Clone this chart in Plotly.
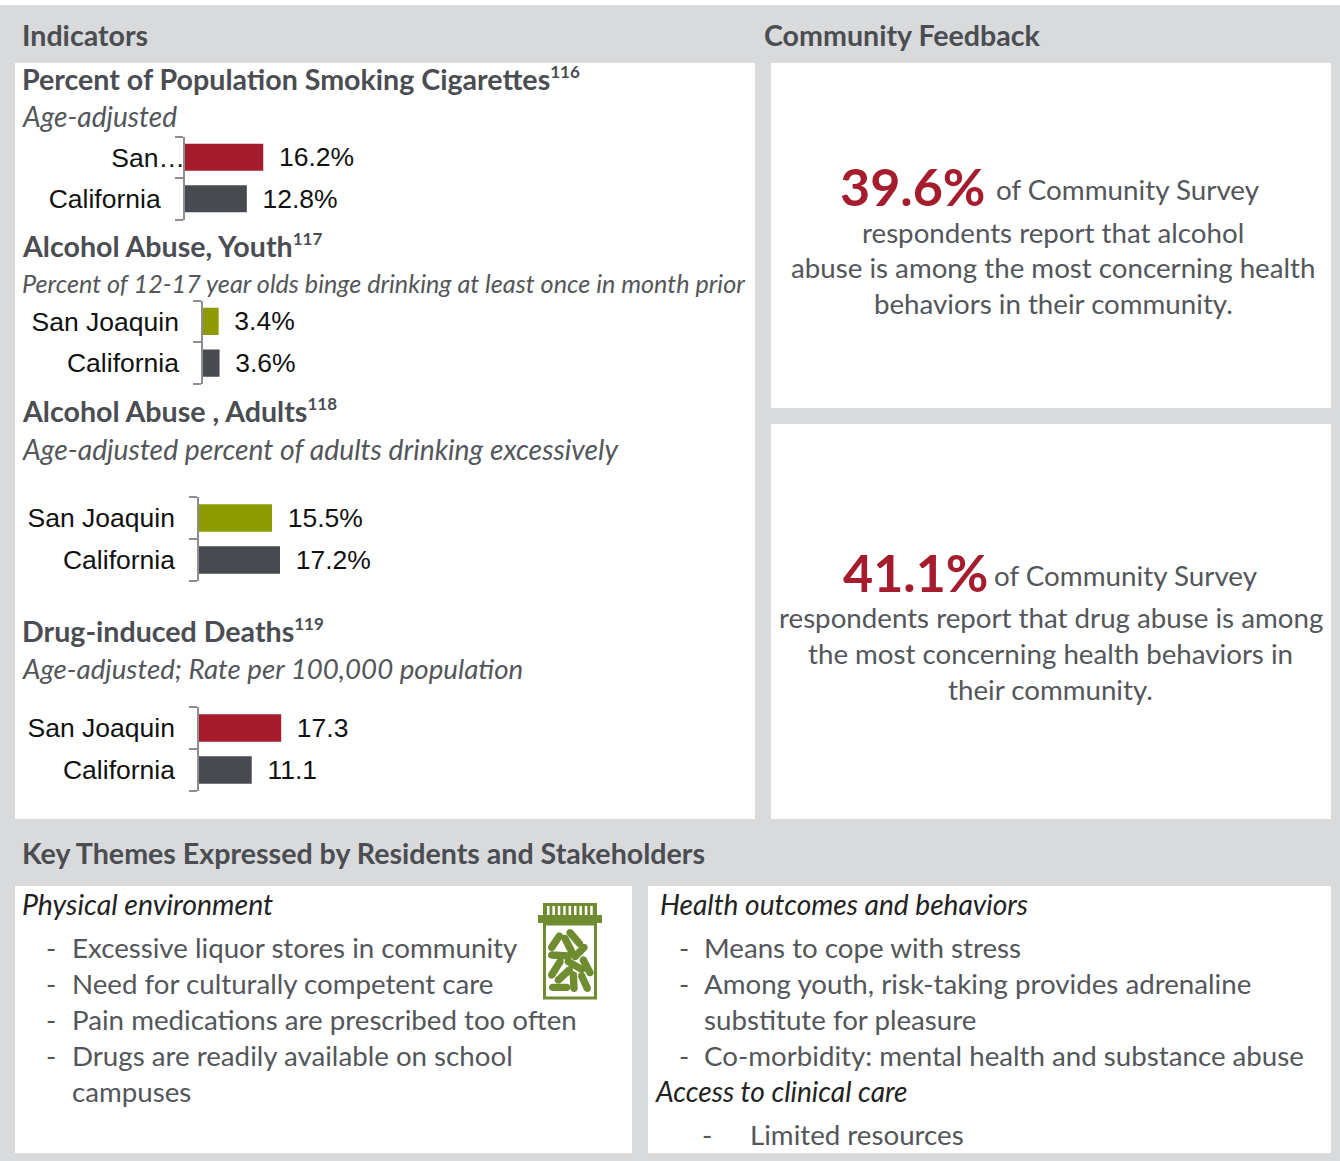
import plotly.graph_objects as go
import math

W, H = 1340, 1161
BODY = "Lato"
ARIAL = "Liberation Sans"
GRAY_BG = "#D9DADC"
DARK = "#4A4D52"
TXT = "#53565A"
RED = "#A51C2D"
OLIVE = "#8E9B00"
SLATE = "#474A4F"
ICON = "#6F8C30"

# ---- data ----
smoking_categories = ["San…", "California"]
smoking_values = [16.2, 12.8]
youth_categories = ["San Joaquin", "California"]
youth_values = [3.4, 3.6]
adult_categories = ["San Joaquin", "California"]
adult_values = [15.5, 17.2]
drug_categories = ["San Joaquin", "California"]
drug_values = [17.3, 11.1]
smoking_colors = [RED, SLATE]
youth_colors = [OLIVE, SLATE]
adult_colors = [OLIVE, SLATE]
drug_colors = [RED, SLATE]


def px(x):
    return x / W


def py(y):
    return 1 - y / H


fig = go.Figure()
shapes = []
ann = []


def rect(x0, y0, x1, y1, color):
    shapes.append(dict(type="rect", xref="paper", yref="paper", x0=px(x0), x1=px(x1),
                       y0=py(y1), y1=py(y0), fillcolor=color, line_width=0, layer="below"))


rect(0, 5, W, H, GRAY_BG)
rect(15, 63, 755, 819, "white")
rect(771, 63, 1331, 408, "white")
rect(771, 424, 1331, 819, "white")
rect(15, 886, 632, 1153, "white")
rect(648, 886, 1331, 1153, "white")


def text(s, x, y, size=27.7, color=TXT, bold=False, italic=False, anchor="left", family=BODY):
    if bold:
        s = f"<b>{s}</b>"
    if italic:
        s = f"<i>{s}</i>"
    if anchor == "left":
        x -= 3
    y -= 1.5
    ann.append(dict(text=s, x=px(x), y=py(y), xref="paper", yref="paper", xanchor=anchor,
                    yanchor="middle", showarrow=False, align=anchor,
                    font=dict(family=family, size=size, color=color)))


def sup(s):
    return f'<sup><span style="font-size:17px">{s}</span></sup>'


HEAD = 28.6
ITAL = 28.1
# headers
text("Indicators", 23, 36, HEAD, DARK, bold=True)
text("Community Feedback", 765, 36, HEAD, DARK, bold=True)
text("Key Themes Expressed by Residents and Stakeholders", 23, 854, HEAD, DARK, bold=True)

# chart titles
text("Percent of Population Smoking Cigarettes" + sup("116"), 23, 80, HEAD, DARK, bold=True)
text("Age-adjusted", 23, 117, ITAL, TXT, italic=True)
text("Alcohol Abuse, Youth" + sup("117"), 23, 247, HEAD, DARK, bold=True)
text("Percent of 12-17 year olds binge drinking at least once in month prior", 23, 284, 25.2, TXT, italic=True)
text("Alcohol Abuse , Adults" + sup("118"), 23, 412, HEAD, DARK, bold=True)
text("Age-adjusted percent of adults drinking excessively", 23, 450, 28.3, TXT, italic=True)
text("Drug-induced Deaths" + sup("119"), 23, 632, HEAD, DARK, bold=True)
text("Age-adjusted; Rate per 100,000 population", 23, 670, 27.7, TXT, italic=True)

# community feedback
text("39.6%", 841, 187, 52, RED, bold=True)
text("of Community Survey", 997, 191, 27.8)
for s, y in [("respondents report that alcohol", 234),
             ("abuse is among the most concerning health", 269),
             ("behaviors in their community.", 305)]:
    text(s, 1053, y, 27.7, anchor="center")
text("41.1%", 844, 573, 52, RED, bold=True)
text("of Community Survey", 995, 577, 27.8)
for s, y in [("respondents report that drug abuse is among", 619),
             ("the most concerning health behaviors in", 655),
             ("their community.", 691)]:
    text(s, 1050.5, y, 27.7, anchor="center")

# key themes
text("Physical environment", 23, 905, 28.5, "#222222", italic=True)
for s, y, dash in [("Excessive liquor stores in community", 949, True),
                   ("Need for culturally competent care", 985, True),
                   ("Pain medications are prescribed too often", 1021, True),
                   ("Drugs are readily available on school", 1057, True),
                   ("campuses", 1093, False)]:
    if dash:
        text("-", 47, y)
    text(s, 73, y)

text("Health outcomes and behaviors", 661, 905, ITAL, "#222222", italic=True)
for s, y, dash in [("Means to cope with stress", 949, True),
                   ("Among youth, risk-taking provides adrenaline", 985, True),
                   ("substitute for pleasure", 1021, False),
                   ("Co-morbidity: mental health and substance abuse", 1057, True)]:
    if dash:
        text("-", 680, y)
    text(s, 705, y)
text("Access to clinical care", 655.5, 1092, ITAL, "#222222", italic=True)
text("-", 703, 1136)
text("Limited resources", 751.5, 1136)

# charts: each has own axes placed by pixel position
charts = [
    (smoking_categories, smoking_values, smoking_colors, 185, 136.5, 219.5, 4.83),
    (youth_categories, youth_values, youth_colors, 203, 300.5, 384, 4.6),
    (adult_categories, adult_values, adult_colors, 199, 497, 581, 4.71),
    (drug_categories, drug_values, drug_colors, 199, 707, 791, 4.75),
]
NB = "\u00a0"
TH = "\u2009"
HAIR = "\u200a"
layout_axes = {}
for i, (cats, vals, cols, ax0, top, bottom, scale) in enumerate(charts, start=1):
    suffix = "" if i == 1 else str(i)
    xname, yname = f"x{suffix}", f"y{suffix}"
    pos = list(range(len(cats)))
    span_px = 300
    is_pct = i < 4
    fig.add_trace(go.Bar(
        x=vals, y=pos, orientation="h", xaxis=xname, yaxis=yname, width=0.65,
        marker=dict(color=cols, line_width=0),
        text=[f"{NB}{TH}{v}{'%' if is_pct else ''}" for v in vals],
        textposition="outside", cliponaxis=False, constraintext="none",
        outsidetextfont=dict(family=ARIAL, size=26.5, color="#111111"),
        hoverinfo="skip", showlegend=False))
    labels = list(cats)
    standoff = 17
    if i == 1:
        labels = [cats[0], cats[1] + NB * 3 + HAIR]
        standoff = -7
    layout_axes[f"xaxis{suffix}"] = dict(
        domain=[px(ax0), px(ax0 + span_px)], range=[0, span_px / scale], visible=False,
        anchor=yname, fixedrange=True)
    layout_axes[f"yaxis{suffix}"] = dict(
        domain=[py(bottom), py(top)], range=[len(cats) - 0.5, -0.5], anchor=xname,
        showgrid=False, zeroline=False, showline=True, linecolor="#8C8E91", linewidth=1.5,
        tickmode="array", tickvals=pos, ticktext=labels, ticks="", ticklabelstandoff=standoff,
        tickfont=dict(family=ARIAL, size=26.5, color="#111111"),
        minor=dict(tickmode="array", tickvals=[-0.5, 0.5, 1.5], ticks="outside", ticklen=8,
                   tickwidth=1.5, tickcolor="#8C8E91", showgrid=False),
        fixedrange=True)


# pill bottle icon (decoration, drawn in page pixels from the 3x zoom coordinates)
def iz(zx, zy):
    return 520 + zx / 3, 890 + zy / 3


def path_rect(x0, y0, x1, y1, color, line=None, lw=0):
    shapes.append(dict(type="rect", xref="paper", yref="paper", x0=px(x0), x1=px(x1),
                       y0=py(y1), y1=py(y0), fillcolor=color,
                       line=dict(color=line or color, width=lw), layer="above"))


def capsule(a, b, r=3.7):
    (x0, y0), (x1, y1) = iz(*a), iz(*b)
    base = math.atan2(y1 - y0, x1 - x0)
    pts = []
    for k in range(9):
        t = base + math.pi / 2 + math.pi * k / 8
        pts.append((x0 + r * math.cos(t), y0 + r * math.sin(t)))
    for k in range(9):
        t = base - math.pi / 2 + math.pi * k / 8
        pts.append((x1 + r * math.cos(t), y1 + r * math.sin(t)))
    d = "M" + " L".join(f"{px(x):.5f},{py(y):.5f}" for x, y in pts) + " Z"
    shapes.append(dict(type="path", xref="paper", yref="paper", path=d, fillcolor=ICON,
                       line_width=0, layer="above"))


path_rect(544.5, 924, 595.5, 998, "rgba(0,0,0,0)", ICON, 3)
path_rect(543, 903, 597, 916, ICON)
path_rect(538, 915, 602, 923, ICON)
for k in range(9):
    path_rect(547 + k * 5.4, 906, 549.5 + k * 5.4, 915, "white")
pills = [((118, 138), (95, 172)), ((150, 128), (178, 160)), ((135, 145), (155, 185)),
         ((192, 172), (165, 200)), ((95, 195), (145, 198)), ((145, 215), (185, 238)),
         ((190, 210), (210, 248)), ((120, 215), (95, 255)), ((148, 240), (115, 270)),
         ((160, 255), (162, 295)), ((185, 258), (202, 295)), ((98, 292), (140, 292))]
for a, b in pills:
    capsule(a, b)

fig.update_layout(width=W, height=H, margin=dict(l=0, r=0, t=0, b=0), paper_bgcolor="white",
                  plot_bgcolor="rgba(0,0,0,0)", shapes=shapes, annotations=ann, showlegend=False,
                  **layout_axes)
fig.write_html("out.html", config={"displayModeBar": False},
               post_script="document.body.style.margin='0';document.body.style.overflow='hidden';")
